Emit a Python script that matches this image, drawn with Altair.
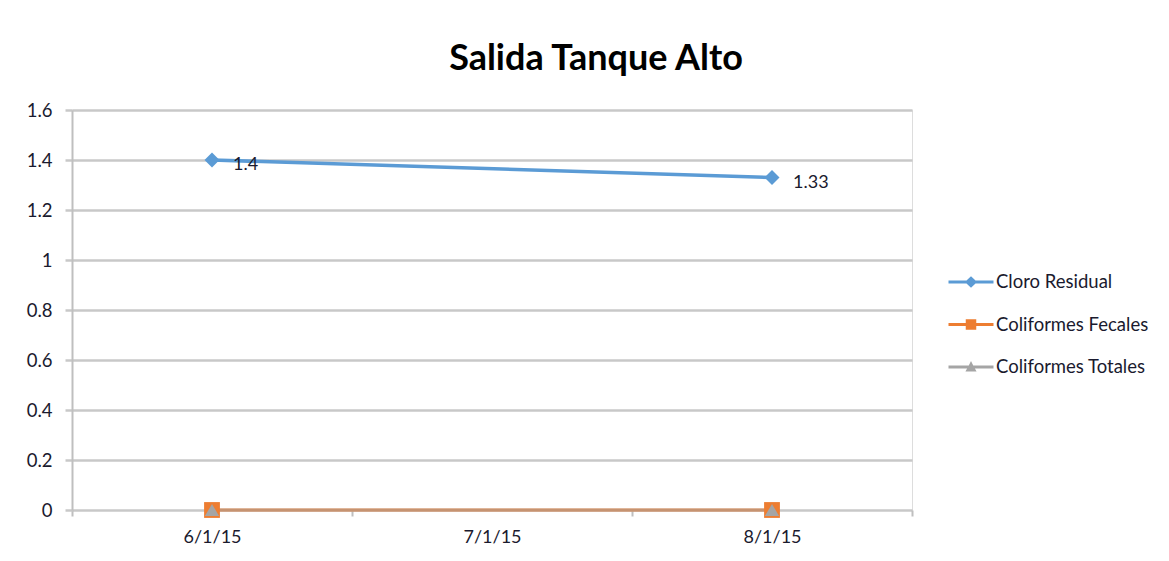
import altair as alt
import pandas as pd

fechas = ["6/1/15", "7/1/15", "8/1/15"]
series = ["Cloro Residual", "Coliformes Fecales", "Coliformes Totales"]
cloro_residual = [1.4, None, 1.33]
coliformes_fecales = [0, None, 0]
coliformes_totales = [0, None, 0]
colores = ["#5B9BD5", "#ED7D31", "#A5A5A5"]
y_ticks = [0, 0.2, 0.4, 0.6, 0.8, 1.0, 1.2, 1.4, 1.6]

rows = []
for name, vals in zip(series, [cloro_residual, coliformes_fecales, coliformes_totales]):
    for f, v in zip(fechas, vals):
        if v is not None:
            rows.append({"fecha": f, "serie": name, "valor": v})
df = pd.DataFrame(rows)

FONT = "Lato"
TXT = "#1a1a2e"

path_diamond = "M-1.5,-0.1H-0.3L0,-0.38L0.3,-0.1H1.5V0.1H0.3L0,0.38L-0.3,0.1H-1.5Z"
path_square = "M-1.5,-0.1H-0.35V-0.35H0.35V-0.1H1.5V0.1H0.35V0.35H-0.35V0.1H-1.5Z"
path_tri = "M-1.5,-0.1H-0.15L0,-0.4L0.15,-0.1H1.5V0.1H0.26L0.37,0.3H-0.37L-0.26,0.1H-1.5Z"

x_enc = alt.X(
    "fecha:N",
    sort=fechas,
    scale=alt.Scale(type="band", domain=fechas, paddingInner=0, paddingOuter=0),
    axis=alt.Axis(
        title=None, labelAngle=0, tickBand="extent", grid=False,
        domain=False, ticks=True, tickColor="#BFBFBF", tickWidth=2, tickSize=6,
        labelFont=FONT, labelFontSize=18, labelColor=TXT, labelPadding=12,
    ),
)
y_enc = alt.Y(
    "valor:Q",
    scale=alt.Scale(domain=[0, 1.6], nice=False),
    axis=alt.Axis(
        title=None, values=y_ticks, format="~g", grid=True, gridColor="#C8C8C8",
        gridWidth=2.5, domain=True, domainColor="#BFBFBF", domainWidth=2,
        tickColor="#C8C8C8", tickWidth=2.5, tickSize=7, labelPadding=13,
        labelFont=FONT, labelFontSize=18.5, labelColor=TXT,
    ),
)

base = alt.Chart(df)

def serie_line(name, color, width, opacity=1.0):
    return base.transform_filter(alt.datum.serie == name).mark_line(
        strokeWidth=width, color=color, opacity=opacity
    ).encode(x=x_enc, y=y_enc, order=alt.Order("fecha:N"))

def serie_pts(name, color, shape, size):
    return base.transform_filter(alt.datum.serie == name).mark_point(
        shape=shape, filled=True, size=size, opacity=1, color=color
    ).encode(x=x_enc, y=y_enc)

legend_layer = base.transform_filter("false").mark_point(
    filled=True, opacity=1, size=900
).encode(
    x=x_enc, y=y_enc,
    color=alt.Color(
        "serie:N", sort=series,
        scale=alt.Scale(domain=series, range=colores),
        legend=alt.Legend(
            title=None, orient="none", legendX=884, legendY=157, padding=0,
            symbolSize=900, symbolStrokeWidth=0,
            labelFont=FONT, labelFontSize=18.5, labelColor=TXT, labelOffset=10,
            rowPadding=17.5,
        ),
    ),
    shape=alt.Shape(
        "serie:N", sort=series,
        scale=alt.Scale(domain=series, range=[path_diamond, path_square, path_tri]),
    ),
)

labels = base.transform_filter(alt.datum.serie == "Cloro Residual").mark_text(
    align="left", baseline="middle", dx=21, dy=5, font=FONT, fontSize=18, color=TXT
).encode(x=x_enc, y=y_enc, text=alt.Text("valor:Q", format="~g"))

chart = alt.layer(
    serie_line("Cloro Residual", colores[0], 3.5),
    serie_line("Coliformes Fecales", colores[1], 3),
    serie_line("Coliformes Totales", colores[2], 3, 0.55),
    serie_pts("Cloro Residual", colores[0], "diamond", 225),
    serie_pts("Coliformes Fecales", colores[1], "square", 250),
    serie_pts("Coliformes Totales", colores[2], "triangle-up", 200),
    labels,
    legend_layer,
).properties(
    width=840, height=400,
    title=alt.TitleParams(
        "Salida Tanque Alto", font=FONT, fontSize=36, fontWeight="bold",
        color="#000000", dx=104, offset=23, anchor="middle",
    ),
    autosize=alt.AutoSizeParams(type="none"),
    padding={"left": 64, "top": 102, "right": 249, "bottom": 43},
).configure_view(stroke=None).configure(background="white")

chart.save("out.html", embed_options={"renderer": "svg", "actions": False})
